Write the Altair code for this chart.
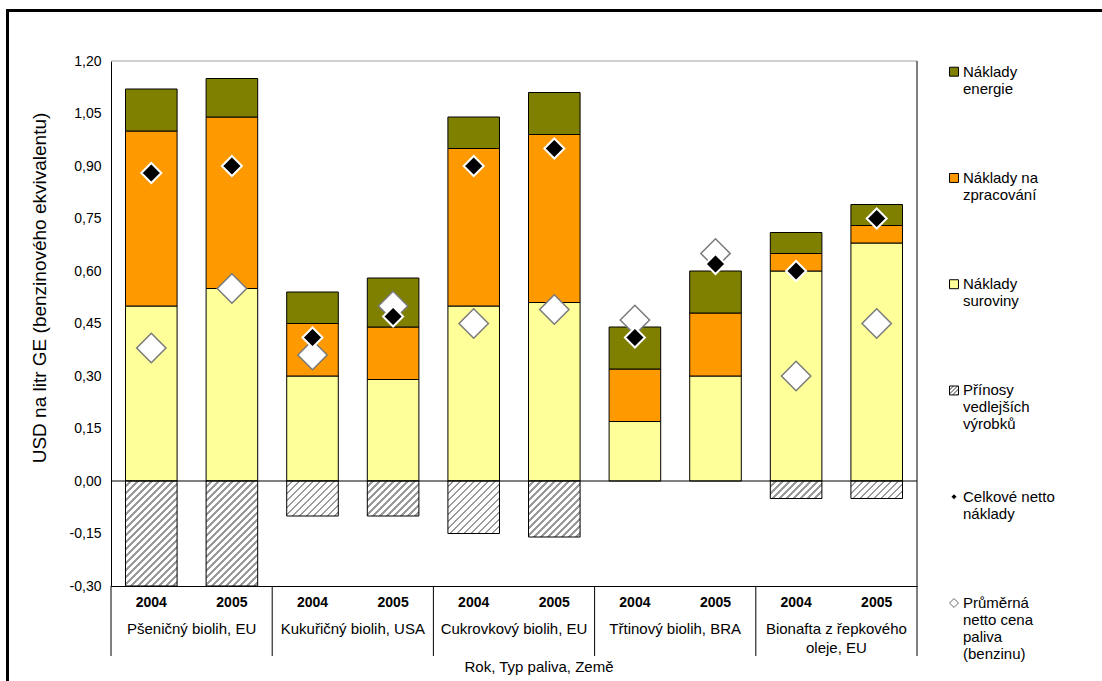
import altair as alt
import pandas as pd

# ---------------- data ----------------
years = ["2004", "2005"] * 5
fuels = [
    "Pšeničný biolih, EU",
    "Kukuřičný biolih, USA",
    "Cukrovkový biolih, EU",
    "Třtinový biolih, BRA",
    "Bionafta z řepkového\noleje, EU",
]
raw = [0.50, 0.55, 0.30, 0.29, 0.50, 0.51, 0.17, 0.30, 0.60, 0.68]
proc = [0.50, 0.49, 0.15, 0.15, 0.45, 0.48, 0.15, 0.18, 0.05, 0.05]
energy = [0.12, 0.11, 0.09, 0.14, 0.09, 0.12, 0.12, 0.12, 0.06, 0.06]
byprod = [-0.30, -0.30, -0.10, -0.10, -0.15, -0.16, 0.0, 0.0, -0.05, -0.05]
net_cost = [0.88, 0.90, 0.41, 0.47, 0.90, 0.95, 0.41, 0.62, 0.60, 0.75]
fuel_price = [0.38, 0.55, 0.36, 0.50, 0.45, 0.49, 0.46, 0.65, 0.30, 0.45]

components = ["Náklady suroviny", "Náklady na zpracování", "Náklady energie"]
comp_colors = ["#FFFF99", "#FF9900", "#808000"]

legend_labels = [
    "Náklady\nenergie",
    "Náklady na\nzpracování",
    "Náklady\nsuroviny",
    "Přínosy\nvedlejších\nvýrobků",
    "Celkové netto\nnáklady",
    "Průměrná\nnetto cena\npaliva\n(benzinu)",
]
y_ticks = [-0.30, -0.15, 0.0, 0.15, 0.30, 0.45, 0.60, 0.75, 0.90, 1.05, 1.20]
y_title = "USD na litr GE (benzinového ekvivalentu)"
x_title = "Rok, Typ paliva,  Země"

# ---------------- layout ----------------
W, H = 806, 525
FONT = "Liberation Sans"
YMIN, YMAX = -0.30, 1.20
PX_PER_UNIT = H / (YMAX - YMIN)
BAR_FRAC = 0.64
HATCH_GREY = "#9a9a9a"

n = len(years)
xs = alt.Scale(domain=[0, n], nice=False, zero=False)
ys = alt.Scale(domain=[YMIN, YMAX], nice=False, zero=False)


def hatch(wpx, hpx, period=7.0, line=2.6):
    s = wpx + hpx
    c = s / (wpx ** 2 + hpx ** 2)
    stops = []
    k = 0.0
    while k < s - 1e-9:
        a = k / s
        b = min((k + period - line) / s, 1.0)
        e = min((k + period) / s, 1.0)
        stops += [
            alt.GradientStop(color="white", offset=a),
            alt.GradientStop(color="white", offset=b),
            alt.GradientStop(color=HATCH_GREY, offset=b),
            alt.GradientStop(color=HATCH_GREY, offset=e),
        ]
        k += period
    return alt.LinearGradient(gradient="linear", x1=0, y1=0, x2=wpx * c, y2=hpx * c, stops=stops)


rows = []
for i in range(n):
    bottom = 0.0
    for comp, vals in zip(components, [raw, proc, energy]):
        rows.append({"idx": i, "comp": comp, "y0": bottom, "y1": bottom + vals[i]})
        bottom += vals[i]
df_bars = pd.DataFrame(rows)

df_pts = pd.DataFrame({"idx": list(range(n)), "year": years, "net": net_cost, "price": fuel_price})
df_neg = pd.DataFrame({"idx": list(range(n)), "y0": [0.0] * n, "y1": byprod})
df_groups = pd.DataFrame({"g": list(range(len(fuels))), "name": fuels})
df_bounds = pd.DataFrame({"b": list(range(0, n, 2))})
one = pd.DataFrame({"a": [0]})

label_expr = "replace(replace(format(datum.value, '.2f'), '.', ','), '\u2212', '-')"

bars = alt.Chart(df_bars).transform_calculate(
    xa=f"datum.idx + {(1 - BAR_FRAC) / 2}", xb=f"datum.idx + {(1 + BAR_FRAC) / 2}"
).mark_bar(stroke="black", strokeWidth=1).encode(
    x=alt.X("xa:Q", scale=xs, axis=alt.Axis(labels=False, ticks=False, grid=False, title=None,
                                            domainColor="black", domainWidth=1)),
    x2="xb:Q",
    y=alt.Y("y0:Q", scale=ys, axis=alt.Axis(values=y_ticks, labelExpr=label_expr, grid=False, ticks=False,
                                            title=None, domainColor="black", domainWidth=1,
                                            labelFont=FONT, labelFontSize=14, labelColor="black",
                                            labelPadding=10, labelOverlap=False)),
    y2="y1:Q",
    fill=alt.Fill("comp:N", scale=alt.Scale(domain=components, range=comp_colors), legend=None),
)

hatch_layers = []
for i in range(n):
    if byprod[i] >= 0:
        continue
    wpx = BAR_FRAC * W / n
    hpx = abs(byprod[i]) * PX_PER_UNIT
    hatch_layers.append(
        alt.Chart(df_neg).transform_filter(alt.datum.idx == i).transform_calculate(
            xa=f"datum.idx + {(1 - BAR_FRAC) / 2}", xb=f"datum.idx + {(1 + BAR_FRAC) / 2}"
        ).mark_bar(fill=hatch(wpx, hpx), stroke="black", strokeWidth=1).encode(
            x=alt.X("xa:Q", scale=xs), x2="xb:Q",
            y=alt.Y("y0:Q", scale=ys), y2="y1:Q",
        )
    )

zero = alt.Chart(pd.DataFrame({"v": [0.0]})).mark_rule(color="black", strokeWidth=1).encode(
    y=alt.Y("v:Q", scale=ys))
top_border = alt.Chart(pd.DataFrame({"v": [YMAX]})).mark_rule(color="#a0a0a0", strokeWidth=1).encode(
    y=alt.Y("v:Q", scale=ys))
right_border = alt.Chart(pd.DataFrame({"b": [n]})).mark_rule(color="black", strokeWidth=1).encode(
    x=alt.X("b:Q", scale=xs), y=alt.value(0), y2=alt.value(H + 70))
separators = alt.Chart(df_bounds).mark_rule(color="black", strokeWidth=1).encode(
    x=alt.X("b:Q", scale=xs), y=alt.value(H), y2=alt.value(H + 70))

frame_left = alt.Chart(one).mark_rule(color="black", strokeWidth=3).encode(
    x=alt.value(-103.5), y=alt.value(-52), y2=alt.value(H + 100))
frame_top = alt.Chart(one).mark_rule(color="black", strokeWidth=3).encode(
    x=alt.value(-105), x2=alt.value(W + 190), y=alt.value(-50.5))

pts = alt.Chart(df_pts).transform_calculate(xc="datum.idx + 0.5")
white_d = pts.mark_point(shape="diamond", filled=True, fill="white", stroke="#7a7a7a", strokeWidth=1.5,
                         size=860, opacity=1).encode(
    x=alt.X("xc:Q", scale=xs), y=alt.Y("price:Q", scale=ys))
black_d = pts.mark_point(shape="diamond", filled=True, fill="black", stroke="white", strokeWidth=2,
                         size=400, opacity=1).encode(
    x=alt.X("xc:Q", scale=xs), y=alt.Y("net:Q", scale=ys))

year_txt = pts.mark_text(font=FONT, fontSize=14, fontWeight="bold", baseline="middle", color="black").encode(
    x=alt.X("xc:Q", scale=xs), y=alt.value(H + 17), text="year:N")
group_txt = alt.Chart(df_groups).transform_calculate(xc="datum.g * 2 + 1").mark_text(
    font=FONT, fontSize=15, baseline="top", dy=-6, lineBreak="\n", lineHeight=19, color="black"
).encode(x=alt.X("xc:Q", scale=xs), y=alt.value(H + 41.5), text="name:N")

xtitle = alt.Chart(pd.DataFrame({"t": [x_title]})).mark_text(
    font=FONT, fontSize=15, baseline="middle", color="black").encode(
    x=alt.value(428), y=alt.value(H + 81), text="t:N")
ytitle = alt.Chart(pd.DataFrame({"t": [y_title]})).mark_text(
    font=FONT, fontSize=19, baseline="middle", angle=270, color="black").encode(
    x=alt.value(-71), y=alt.value(227), text="t:N")

# ---------------- legend ----------------
LEG_TOP, LEG_STEP = 10.7, 106.26
leg_x_sym = W + 37
leg_x_txt = W + 46
sym_styles = [
    dict(shape="square", fill="#808000", stroke="black", strokeWidth=1, size=80),
    dict(shape="square", fill="#FF9900", stroke="black", strokeWidth=1, size=80),
    dict(shape="square", fill="#FFFF99", stroke="black", strokeWidth=1, size=80),
    dict(shape="square", fill=hatch(9, 9, period=4.5, line=2.0), stroke="black", strokeWidth=1, size=80),
    dict(shape="diamond", fill="black", stroke="white", strokeWidth=0.5, size=30),
    dict(shape="diamond", fill="white", stroke="#666666", strokeWidth=1, size=80),
]
legend_layers = []
for k, (lab, st) in enumerate(zip(legend_labels, sym_styles)):
    ly = LEG_TOP + k * LEG_STEP
    ldf = pd.DataFrame({"label": [lab]})
    legend_layers.append(
        alt.Chart(ldf).mark_point(filled=True, opacity=1, **st).encode(
            x=alt.value(leg_x_sym), y=alt.value(ly))
    )
    legend_layers.append(
        alt.Chart(ldf).mark_text(align="left", baseline="top", dy=-7, font=FONT, fontSize=15,
                                 lineBreak="\n", lineHeight=17, color="black").encode(
            x=alt.value(leg_x_txt), y=alt.value(ly), text="label:N")
    )

chart = alt.layer(
    frame_left, frame_top, bars, *hatch_layers, zero, top_border, right_border, separators,
    white_d, black_d, year_txt, group_txt, xtitle, ytitle, *legend_layers
).properties(
    width=W, height=H,
    padding={"left": 111, "top": 61, "right": 1102 - 111 - W, "bottom": 681 - 61 - H},
    autosize=alt.AutoSizeParams(type="none"),
).configure_view(stroke=None)

chart.save("out.html", embed_options={"renderer": "svg", "actions": False})
